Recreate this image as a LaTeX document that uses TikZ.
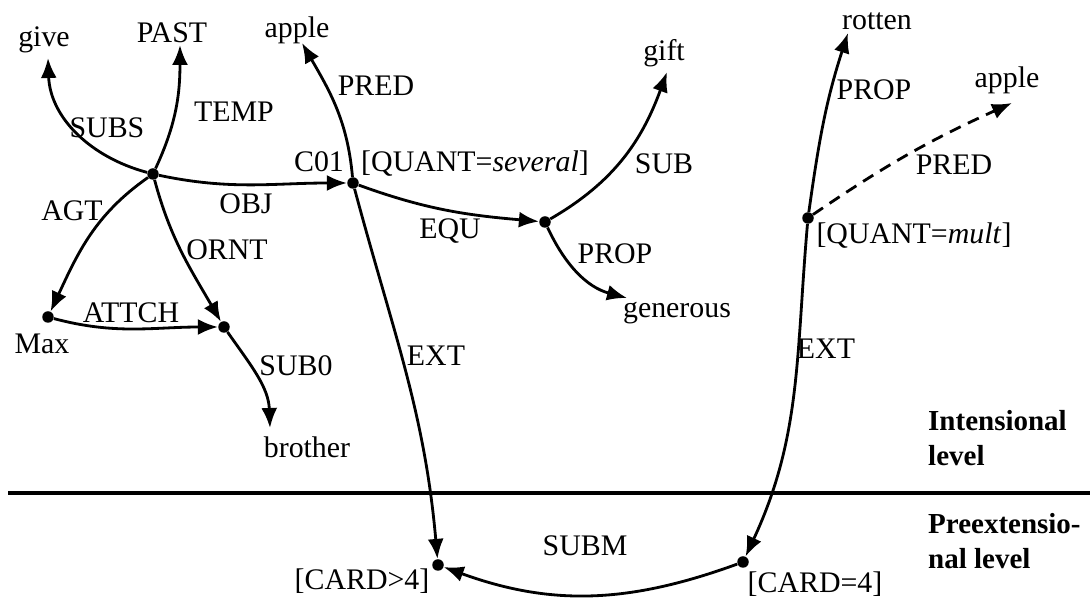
\documentclass[tikz,border=0pt]{standalone}
\usepackage{fontspec}
\setmainfont{Liberation Serif}
\usetikzlibrary{arrows.meta}
\tikzset{
  fl/.style={line width=1.6pt,-{Latex[length=4mm,width=3.2mm]}},
  pt/.style={circle,fill,inner sep=0pt,minimum size=2.3mm},
  niveau/.style={anchor=west,align=left,font=\fontsize{16.5}{19.5}\selectfont\bfseries},
}
\begin{document}
\begin{tikzpicture}[x=0.02cm,y=0.02cm,font=\fontsize{17}{20}\selectfont]
    \useasboundingbox (0,0) rectangle (1090,598);
    % Points
    \path(153,424) node[pt](a){};
    \path(353,415) node[pt](c){};
    \path(545,376) node[pt](b){};
    \path(48,281) node[pt](max){};
    \path(224,271) node[pt](d){};
    \path(808,380) node[pt](e){};
    \path(438,33) node[pt](f){};
    \path(743,36) node[pt](g){};
    % Concepts
    \path(44,558) node(give){give};
    \path(172,565) node(past){PAST};
    \path(297,568) node(apple){apple};
    \path(664,545) node(gift){gift};
    \path(677,285) node(generous){generous};
    \path(307,151) node(brother){brother};
    \path(877,577) node(rotten){rotten};
    \path(1007,518) node(appleb){apple};
    \path(42,254) node(maxl){Max};
    \path(319,436) node(col){C01};
    \path(475,434) node(quanta){[QUANT=\textit{several}]};
    \path(914,362) node(quantb){[QUANT=\textit{mult}]};
    \path(362,17) node(carda){[CARD>4]};
    \path(815,14) node(cardb){[CARD=4]};
    % Bouts de fleches
    \coordinate (give-t) at (48,540);
    \coordinate (past-t) at (180,553);
    \coordinate (apple-t) at (302,555);
    \coordinate (gift-t) at (667,526);
    \coordinate (gen-t) at (627,300);
    \coordinate (bro-t) at (270,170);
    \coordinate (rot-t) at (848,565);
    \coordinate (appleb-t) at (1012,495);
    % Arcs
    \draw[fl](a) to[out=165,in=-88] (give-t); % SUBS
    \draw[fl](a) to[out=65,in=-90] (past-t); % TEMP
    \draw[fl](a) to[out=-12,in=180] (c); % OBJ
    \draw[fl](a) to[out=-145,in=65] (max); % AGT
    \draw[fl](a) to[out=-75,in=120] (d); % ORNT
    \draw[fl](max) to[out=-15,in=180] (d); % ATTCH
    \draw[fl](d) to[out=-55,in=92] (bro-t); % SUB0
    \draw[fl](c) to[out=95,in=-60] (apple-t); % PRED
    \draw[fl](c) to[out=-75,in=95] (f); % EXT
    \draw[fl](c) to[out=-20,in=175] (b); % EQU
    \draw[fl](b) to[out=30,in=-110] (gift-t); % SUB
    \draw[fl](b) to[out=-65,in=165] (gen-t); % PROP
    \draw[fl](e) to[out=82,in=-108] (rot-t); % PROP
    \draw[fl](e) to[out=-95,in=65] (g); % EXT
    \draw[fl,dash pattern=on 2.4mm off 1.6mm](e) to[bend left=5] (appleb-t); % PRED
    \draw[fl](g) to[out=200,in=-20] (f); % SUBM
    % Etiquettes des arcs
    \path(107,470) node(subs){SUBS};
    \path(234,486) node(temp){TEMP};
    \path(376,512) node(preda){PRED};
    \path(72,387) node(agt){AGT};
    \path(246,394) node(obj){OBJ};
    \path(227,348) node(ornt){ORNT};
    \path(131,285) node(attch){ATTCH};
    \path(296,232) node(subz){SUB0};
    \path(664,434) node(sub){SUB};
    \path(450,367) node(equ){EQU};
    \path(615,344) node(propa){PROP};
    \path(436,242) node(exta){EXT};
    \path(826,249) node(extb){EXT};
    \path(874,508) node(propb){PROP};
    \path(954,433) node(predb){PRED};
    \path(585,52) node(subm){SUBM};
    % Niveaux
    \draw[line width=2.6pt](8,105) -- (1090,105); % Separation
    \path(922,160) node[niveau](intens){Intensional\\level};
    \path(922,57) node[niveau](preext){Preextensio-\\nal level};
\end{tikzpicture}
\end{document}
